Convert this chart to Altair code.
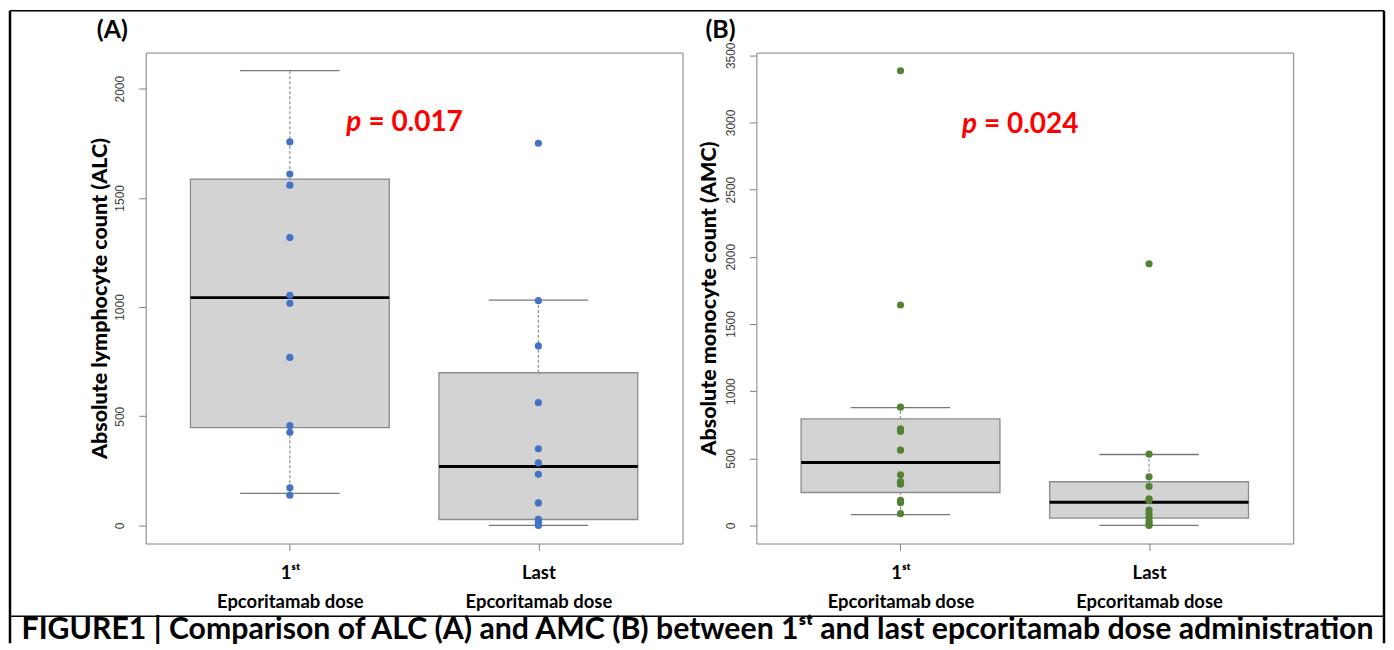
import altair as alt
import pandas as pd

# ---------------- data ----------------
groups = [1, 2]
group_labels = ["1ˢᵗ", "Last"]
group_sub = "Epcoritamab dose"

# individual points
alc_first = [1756, 1609, 1558, 1318, 1054, 1017, 769, 457, 426, 172, 138]
alc_last = [1750, 1029, 822, 562, 351, 286, 234, 103, 28, 15, 5, 0]
amc_first = [3385, 1641, 880, 719, 699, 560, 377, 327, 307, 186, 169, 87]
amc_last = [1948, 530, 362, 290, 198, 184, 114, 84, 59, 30, 8, 0]

# box statistics: lower whisker, Q1, median, Q3, upper whisker
alc_box_first = [147, 448, 1043, 1586, 2082]
alc_box_last = [0, 27, 270, 699, 1032]
amc_box_first = [80, 245, 468, 793, 877]
amc_box_last = [0, 54, 173, 325, 528]

alc_ticks = [0, 500, 1000, 1500, 2000]
amc_ticks = [0, 500, 1000, 1500, 2000, 2500, 3000, 3500]
alc_domain = [-83, 2165]
amc_domain = [-135, 3520]

p_values = ["0.017", "0.024"]
p_anchor_x = [1.30, 1.32]
p_anchor_y = [1805, 2925]

panel_letters = ["(A)", "(B)"]
y_titles = ["Absolute lymphocyte count (ALC)", "Absolute monocyte count (AMC)"]
caption = "FIGURE1 | Comparison of ALC (A) and AMC (B) between 1ˢᵗ and last epcoritamab dose administration"

BOLD_FONT = "Lato"
W, H = 538, 492


def label_expr():
    return (
        f"datum.value == {groups[0]} ? ['{group_labels[0]}', '{group_sub}'] : "
        f"['{group_labels[1]}', '{group_sub}']"
    )


def panel(first, last, box_first, box_last, color, ytitle, ticks, ydomain,
          pval, px, py, letter, title_pad, letter_dx):
    pts = pd.DataFrame({
        "g": [groups[0]] * len(first) + [groups[1]] * len(last),
        "v": first + last,
    })
    stats = [box_first, box_last]
    bx = pd.DataFrame({
        "g": groups,
        "lo": [s[0] for s in stats],
        "q1": [s[1] for s in stats],
        "med": [s[2] for s in stats],
        "q3": [s[3] for s in stats],
        "hi": [s[4] for s in stats],
    })
    bx["xl"] = bx["g"] - 0.4
    bx["xr"] = bx["g"] + 0.4
    bx["cl"] = bx["g"] - 0.2
    bx["cr"] = bx["g"] + 0.2

    xs = alt.Scale(domain=[0.42, 2.58], nice=False, zero=False)
    ys = alt.Scale(domain=ydomain, nice=False, zero=False)
    xaxis = alt.Axis(values=groups, labelExpr=label_expr(), title=None,
                     domain=False, grid=False, tickColor="#808080", tickSize=7,
                     labelFont=BOLD_FONT, labelFontWeight="bold", labelFontSize=18.5,
                     labelColor="black", labelPadding=13, labelLineHeight=29,
                     labelAngle=0, labelAlign="center")
    yaxis = alt.Axis(values=ticks, format="d", title=ytitle, domain=False, grid=False,
                     tickColor="#808080", tickSize=7, labelFont="Liberation Sans",
                     labelFontSize=12, labelColor="#404040", labelAngle=270,
                     labelAlign="center", labelBaseline="bottom", labelPadding=12,
                     titleFont=BOLD_FONT, titleFontSize=21.5, titleFontWeight=900,
                     titleColor="black", titlePadding=title_pad)

    base = alt.Chart(bx)
    box = base.mark_rect(fill="#d3d3d3", stroke="#8c8c8c", strokeWidth=1.3).encode(
        x=alt.X("xl:Q", scale=xs, axis=xaxis), x2="xr",
        y=alt.Y("q1:Q", scale=ys, axis=yaxis), y2="q3")
    wh_up = base.mark_rule(color="#909090", strokeDash=[3, 2], strokeWidth=1.2).encode(
        x=alt.X("g:Q", scale=xs), y=alt.Y("q3:Q", scale=ys), y2="hi")
    wh_lo = base.mark_rule(color="#909090", strokeDash=[3, 2], strokeWidth=1.2).encode(
        x=alt.X("g:Q", scale=xs), y=alt.Y("lo:Q", scale=ys), y2="q1")
    cap_hi = base.mark_rule(color="#777777", strokeWidth=1.3).encode(
        x=alt.X("cl:Q", scale=xs), x2="cr", y=alt.Y("hi:Q", scale=ys))
    cap_lo = base.mark_rule(color="#777777", strokeWidth=1.3).encode(
        x=alt.X("cl:Q", scale=xs), x2="cr", y=alt.Y("lo:Q", scale=ys))
    med = base.mark_rule(color="black", strokeWidth=3).encode(
        x=alt.X("xl:Q", scale=xs), x2="xr", y=alt.Y("med:Q", scale=ys))
    dots = alt.Chart(pts).mark_circle(size=52, color=color, opacity=1).encode(
        x=alt.X("g:Q", scale=xs), y=alt.Y("v:Q", scale=ys))

    pdf = pd.DataFrame({"x": [px], "y": [py], "t": ["= " + pval]})
    p_it = alt.Chart(pdf).mark_text(text="p", align="right", dx=-3, baseline="alphabetic",
                                    font=BOLD_FONT, fontSize=28, fontWeight="bold",
                                    fontStyle="italic", color="#ff0000").encode(
        x=alt.X("x:Q", scale=xs), y=alt.Y("y:Q", scale=ys))
    p_num = alt.Chart(pdf).mark_text(align="left", dx=4, baseline="alphabetic",
                                     font=BOLD_FONT, fontSize=28, fontWeight="bold",
                                     color="#ff0000").encode(
        x=alt.X("x:Q", scale=xs), y=alt.Y("y:Q", scale=ys), text="t:N")

    one = pd.DataFrame({"k": [0]})
    let = alt.Chart(one).mark_text(align="left", baseline="alphabetic", font=BOLD_FONT,
                                   fontSize=25, fontWeight="bold", color="black").encode(
        x=alt.value(letter_dx), y=alt.value(-15), text=alt.value(letter))

    return [box, wh_up, wh_lo, cap_hi, cap_lo, med, dots, p_it, p_num, let]


layers_a = panel(alc_first, alc_last, alc_box_first, alc_box_last, "#4472C4",
                 y_titles[0], alc_ticks, alc_domain, p_values[0], p_anchor_x[0],
                 p_anchor_y[0], panel_letters[0], 2, -49)
layers_b = panel(amc_first, amc_last, amc_box_first, amc_box_last, "#548235",
                 y_titles[1], amc_ticks, amc_domain, p_values[1], p_anchor_x[1],
                 p_anchor_y[1], panel_letters[1], 4, -51)

# table-cell frame and caption (drawn relative to panel A)
one = pd.DataFrame({"k": [0]})
frame_top = alt.Chart(one).mark_rule(color="black", strokeWidth=1.5).encode(
    x=alt.value(-136), x2=alt.value(1241), y=alt.value(-42))
frame_left = alt.Chart(one).mark_rule(color="black", strokeWidth=2.5).encode(
    x=alt.value(-136), y=alt.value(-42), y2=alt.value(592))
frame_right = alt.Chart(one).mark_rule(color="black", strokeWidth=2.5).encode(
    x=alt.value(1241), y=alt.value(-42), y2=alt.value(592))
frame_sep = alt.Chart(one).mark_rule(color="black", strokeWidth=1.5).encode(
    x=alt.value(-136), x2=alt.value(1241), y=alt.value(565))
cap = alt.Chart(one).mark_text(align="center", baseline="alphabetic", font=BOLD_FONT,
                               fontSize=30.3, fontWeight="bold", color="black").encode(
    x=alt.value(553), y=alt.value(588), text=alt.value(caption))

panel_a = alt.layer(*layers_a, frame_top, frame_left, frame_right, frame_sep, cap).properties(
    width=W, height=H)
panel_b = alt.layer(*layers_b).properties(width=W, height=H)

chart = alt.hconcat(panel_a, panel_b, spacing=74, bounds="flush").resolve_scale(
    y="independent", x="independent"
).properties(padding=0).configure_view(stroke="#808080", strokeWidth=1)

chart.save("out.html", embed_options={"renderer": "svg", "actions": False})
